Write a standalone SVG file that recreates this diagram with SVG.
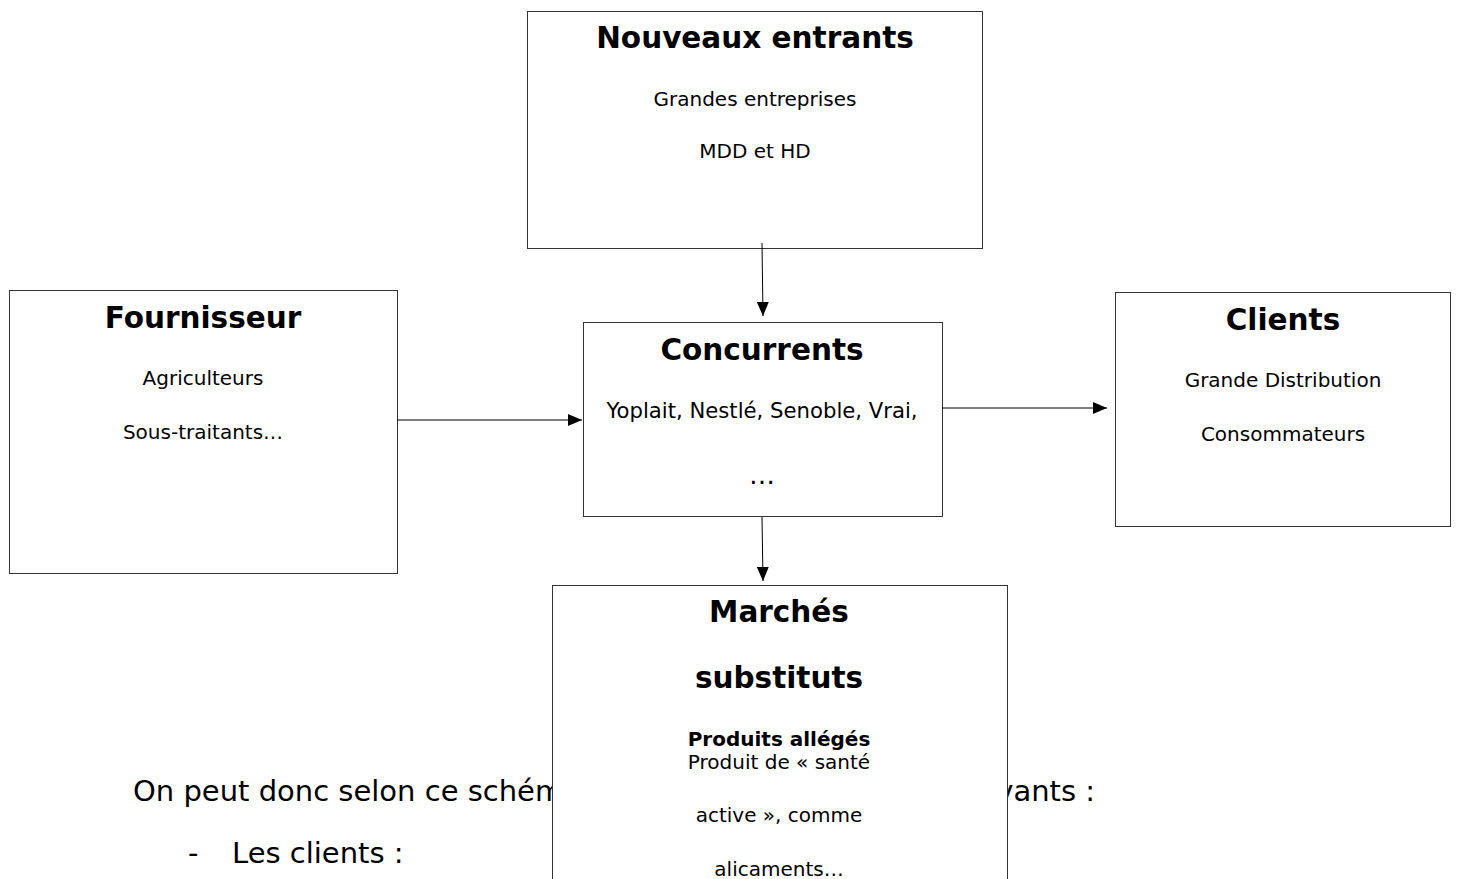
<svg xmlns="http://www.w3.org/2000/svg" width="1457" height="879" viewBox="0 0 1457 879">
<style>
.box{fill:#fff;stroke:#333;stroke-width:1}
.t{font-family:"DejaVu Sans",sans-serif;font-weight:bold;font-size:29.5px;text-anchor:middle;fill:#000}
.s{font-family:"DejaVu Sans",sans-serif;font-size:20px;text-anchor:middle;fill:#000}
.sb{font-family:"DejaVu Sans",sans-serif;font-size:20px;font-weight:bold;text-anchor:middle;fill:#000}
.p{font-family:"DejaVu Sans",sans-serif;font-size:29px;fill:#000}
.c{stroke:#000;stroke-width:1;fill:none}
</style>
<defs>
<marker id="ah" markerWidth="14" markerHeight="12" refX="14" refY="6" orient="auto" markerUnits="userSpaceOnUse">
<path d="M0,0 L14,6 L0,12 Z" fill="#000"/>
</marker>
</defs>
<rect width="1457" height="879" fill="#fff"/>
<g id="bgtext">
<text class="p" x="133" y="801">On peut donc selon ce schém</text>
<text class="p" x="1095" y="801" text-anchor="end">vants :</text>
<text class="p" x="188" y="863">-</text>
<text class="p" x="232" y="863">Les clients :</text>
</g>
<g id="nouveaux">
<rect class="box" x="527.5" y="11.5" width="455" height="237"/>
<text class="t" x="755" y="48">Nouveaux entrants</text>
<text class="s" x="755" y="105.5">Grandes entreprises</text>
<text class="s" x="755" y="158">MDD et HD</text>
</g>
<g id="fournisseur">
<rect class="box" x="9.5" y="290.5" width="388" height="283"/>
<text class="t" x="203" y="328">Fournisseur</text>
<text class="s" x="203" y="384.5">Agriculteurs</text>
<text class="s" x="203" y="438.5">Sous-traitants…</text>
</g>
<g id="concurrents">
<rect class="box" x="583.5" y="322.5" width="359" height="194"/>
<text class="t" x="762" y="359.5">Concurrents</text>
<text class="s" x="762" y="417.5" style="font-size:21.2px">Yoplait, Nestlé, Senoble, Vrai,</text>
<text class="s" x="762" y="484" style="font-size:26px">…</text>
</g>
<g id="clients">
<rect class="box" x="1115.5" y="292.5" width="335" height="234"/>
<text class="t" x="1283" y="330">Clients</text>
<text class="s" x="1283" y="386.5">Grande Distribution</text>
<text class="s" x="1283" y="440.5">Consommateurs</text>
</g>
<g id="marches">
<rect class="box" x="552.5" y="585.5" width="455" height="300"/>
<text class="t" x="779" y="622">Marchés</text>
<text class="t" x="779" y="688">substituts</text>
<text class="sb" x="779" y="746">Produits allégés</text>
<text class="s" x="779" y="769">Produit de « santé</text>
<text class="s" x="779" y="822">active », comme</text>
<text class="s" x="779" y="876">alicaments…</text>
</g>
<g id="connectors">
<line class="c" x1="762" y1="243" x2="763" y2="316" marker-end="url(#ah)"/>
<line class="c" x1="397" y1="420" x2="582" y2="420" marker-end="url(#ah)"/>
<line class="c" x1="942" y1="408" x2="1107" y2="408" marker-end="url(#ah)"/>
<line class="c" x1="762" y1="517" x2="763" y2="581" marker-end="url(#ah)"/>
</g>
</svg>
